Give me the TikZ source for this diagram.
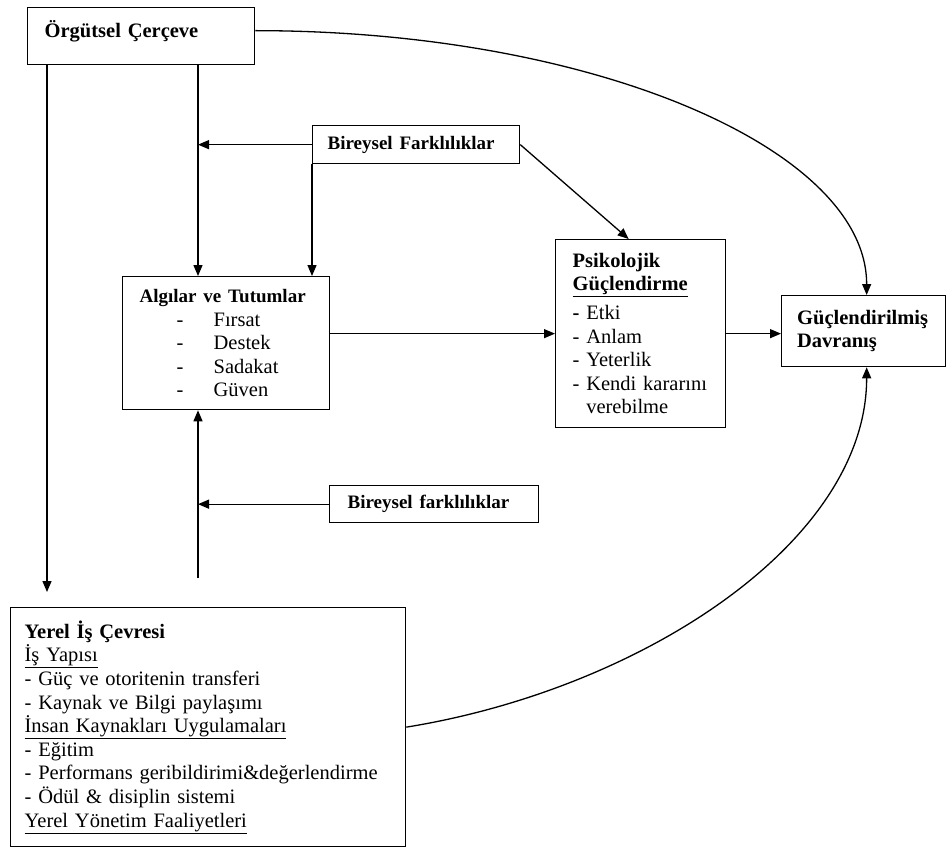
\documentclass[tikz,border=0pt]{standalone}
\usepackage{fontspec}
\setmainfont{Liberation Serif}
\usetikzlibrary{arrows.meta,calc}

\tikzset{
  box/.style={draw, line width=1.3pt, anchor=north west, align=left,
    inner xsep=17pt, inner ysep=0pt, font=\fontsize{20.5}{23.6}\selectfont},
  arr/.style={line width=1.3pt, -{Triangle[length=11pt,width=9pt]}},
}
\newcommand{\litem}[1]{\hspace*{37pt}\makebox[37pt][l]{-}#1}
\newcommand{\smallbf}[1]{{\fontsize{19}{23.6}\selectfont\textbf{#1}}}

\begin{document}
\begin{tikzpicture}[x=1pt,y=-1pt]
    \useasboundingbox (0,0) rectangle (947,853);

    % boxes
    \node[box, minimum width=227pt, minimum height=57pt, text width=193pt, text depth=15pt] (org) at (27,7) {\textbf{Örgütsel Çerçeve}};
    \node[box, minimum width=207pt, minimum height=38pt, text width=177pt, inner xsep=15pt] (bf1) at (312,125) {\smallbf{Bireysel Farklılıklar}};
    \node[box, minimum width=207pt, minimum height=133pt, text width=173pt] (alg) at (122,276) {\smallbf{Algılar ve Tutumlar}\\
        \litem{Fırsat}\\
        \litem{Destek}\\
        \litem{Sadakat}\\
        \litem{Güven}};
    \node[box, minimum width=170pt, minimum height=188pt, text width=136pt] (psi) at (555,239) {\textbf{Psikolojik}\\
        \textbf{\underline{Güçlendirme}}\\[5pt]
        \textbf{-} Etki\\
        - Anlam\\
        - Yeterlik\\
        - Kendi kararını\\
        \phantom{- }verebilme};
    \node[box, minimum width=164pt, minimum height=71pt, text width=133pt, inner xsep=15.5pt] (guc) at (781,295) {\textbf{Güçlendirilmiş}\\
        \textbf{Davranış}};
    \node[box, minimum width=209pt, minimum height=37pt, text width=173pt, inner xsep=18pt] (bf2) at (329,485) {\smallbf{Bireysel farklılıklar}};
    \node[box, minimum width=395pt, minimum height=239pt, text width=367pt, inner xsep=14pt] (yerel) at (10,607) {\textbf{Yerel İş Çevresi}\\
        \underline{İş Yapısı}\\
        - Güç ve otoritenin transferi\\
        - Kaynak ve Bilgi paylaşımı\\
        \underline{İnsan Kaynakları Uygulamaları}\\
        - Eğitim\\
        - Performans geribildirimi\&değerlendirme\\
        - Ödül \& disiplin sistemi\\
        \underline{Yerel Yönetim Faaliyetleri}};

    % free ends
    \coordinate (xl) at (198,0);
    \coordinate (yin) at (47,592);
    \coordinate (yb) at (198,578);

    % straight connectors
    \draw[arr] (org.south -| yin) -- (yin);
    \draw[arr] (org.south -| xl) -- (alg.north -| xl);
    \draw[arr] (bf1.west) -- (bf1.west -| xl);
    \draw[arr] (bf1.south west) -- (alg.north -| bf1.south west);
    \draw[arr] (bf1.east) -- ([xshift=-12pt]psi.north);
    \draw[arr] (psi.west -| alg.east) -- (psi.west);
    \draw[arr] (psi.east) -- (psi.east -| guc.west);
    \draw[arr] (yb) -- (alg.south -| yb);
    \draw[arr] (bf2.west) -- (bf2.west -| xl);

    % curved connectors
    \coordinate (S) at ([yshift=5.5pt]org.east);
    \coordinate (E) at ([xshift=3pt]guc.north);
    \draw[arr] (S) .. controls ($(S)+(338,0)$) and ($(E)+(0,-146)$) .. (E);
    \coordinate (S2) at (yerel.east);
    \coordinate (E2) at ([xshift=3pt]guc.south);
    \draw[arr] (S2) .. controls ($(S2)+(235,-38)$) and ($(E2)+(0,175)$) .. (E2);
\end{tikzpicture}
\end{document}
